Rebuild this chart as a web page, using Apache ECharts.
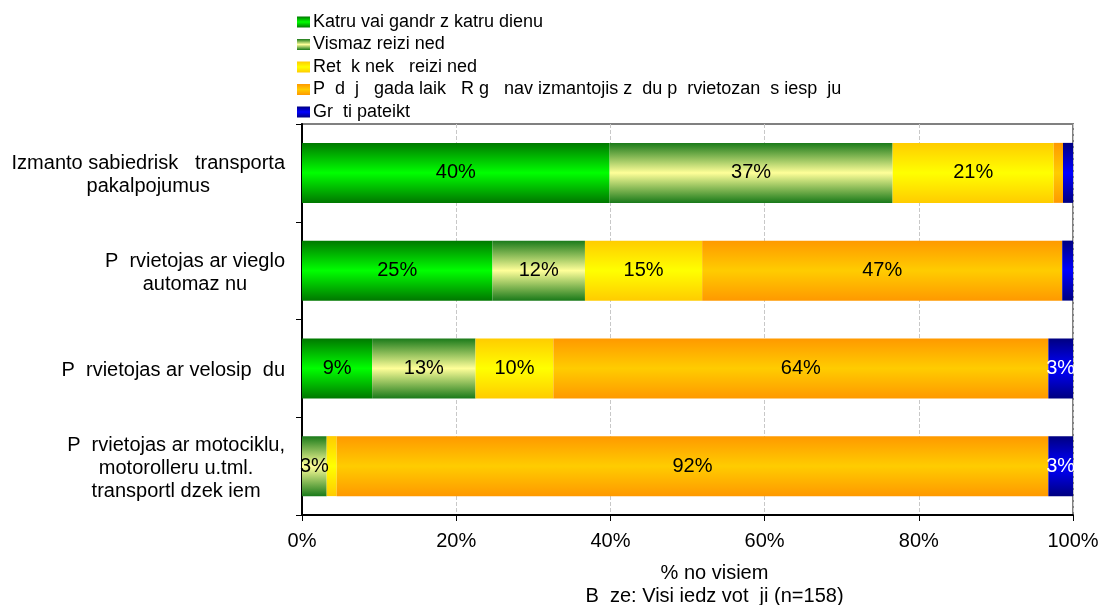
<!DOCTYPE html>
<html>
<head>
<meta charset="utf-8">
<script src="https://cdn.jsdelivr.net/npm/echarts@6/dist/echarts.min.js"></script>
<style>
  html, body { margin: 0; padding: 0; background: #fff; }
  #chart { width: 1099px; height: 605px; }
</style>
</head>
<body>
<div id="chart"></div>
<script>
// Transport usage frequency, share of all respondents (%)
var categories = [
  'Izmanto sabiedrisk   transporta\npakalpojumus',
  'P  rvietojas ar vieglo\nautomaz nu',
  'P  rvietojas ar velosip  du',
  'P  rvietojas ar motociklu,\nmotorolleru u.tml.\ntransportl dzek iem'
];
var seriesNames = [
  'Katru vai gandr z katru dienu',
  'Vismaz reizi ned',
  'Ret  k nek   reizi ned',
  'P  d  j   gada laik   R g   nav izmantojis z  du p  rvietozan  s iesp  ju',
  'Gr  ti pateikt'
];
var katruDienu = [39.9, 24.7, 9.1, 0];
var vismazReiziNed = [36.7, 12.0, 13.4, 3.2];
var retakNekReizi = [20.9, 15.2, 10.1, 1.3];
var navIzmantojis = [1.2, 46.7, 64.2, 92.3];
var grutiPateikt = [1.3, 1.4, 3.2, 3.2];
var xTicks = [0, 20, 40, 60, 80, 100];

var seriesValues = [katruDienu, vismazReiziNed, retakNekReizi, navIzmantojis, grutiPateikt];

// Vertical three-stop gradients: edge / centre / edge
function band(edge, mid) {
  return new echarts.graphic.LinearGradient(0, 0, 0, 1, [
    { offset: 0, color: edge },
    { offset: 0.5, color: mid },
    { offset: 1, color: edge }
  ]);
}
var fills = [
  band('#007800', '#00ff00'),
  band('#1a7a1a', '#ffff99'),
  band('#ffcc00', '#ffff00'),
  band('#ff9900', '#ffcc00'),
  band('#000080', '#0000ff')
];
var labelColors = ['#000', '#000', '#000', '#000', '#fff'];

var FONT = '"Liberation Sans", Arial, sans-serif';

var chart = echarts.init(document.getElementById('chart'), null, { renderer: 'canvas' });

var series = seriesNames.map(function (name, i) {
  return {
    name: name,
    type: 'bar',
    stack: 'total',
    barWidth: 60,
    data: seriesValues[i],
    itemStyle: { color: fills[i] },
    label: {
      show: true,
      position: 'inside',
      color: labelColors[i],
      fontFamily: FONT,
      fontSize: 20,
      formatter: function (p) {
        return p.value >= 2.5 ? Math.round(p.value) + '%' : '';
      }
    },
    emphasis: { disabled: true }
  };
});

chart.setOption({
  animation: false,
  backgroundColor: '#fff',
  textStyle: { fontFamily: FONT, color: '#000' },
  legend: {
    orient: 'vertical',
    left: 292,
    top: 8,
    icon: 'rect',
    itemWidth: 13,
    itemHeight: 11,
    itemGap: 4.5,
    textStyle: { fontFamily: FONT, fontSize: 18, lineHeight: 18, color: '#000', padding: [0, 0, 0, -2] },
    data: seriesNames
  },
  grid: {
    left: 302,
    right: 26,
    top: 124,
    bottom: 90,
    outerBoundsMode: 'none',
    containLabel: false,
    show: true,
    borderColor: '#808080',
    borderWidth: 2,
    backgroundColor: 'transparent'
  },
  xAxis: {
    type: 'value',
    min: xTicks[0],
    max: xTicks[xTicks.length - 1],
    interval: 20,
    name: '% no visiem\nB  ze: Visi iedz vot  ji (n=158)',
    nameLocation: 'middle',
    nameGap: 47,
    nameTextStyle: { fontFamily: FONT, fontSize: 20, color: '#000', lineHeight: 23, padding: [0, 0, 0, 54] },
    axisLine: { show: true, lineStyle: { color: '#000', width: 2 } },
    axisTick: { show: true, length: 6, lineStyle: { color: '#000' } },
    axisLabel: {
      margin: 16,
      fontFamily: FONT,
      fontSize: 20,
      color: '#000',
      formatter: '{value}%'
    },
    splitLine: { show: true, lineStyle: { color: '#c8c8c8', type: 'dashed', width: 1 } }
  },
  yAxis: {
    type: 'category',
    inverse: true,
    data: categories,
    axisLine: { show: true, lineStyle: { color: '#000', width: 2 } },
    axisTick: { show: true, length: 6, lineStyle: { color: '#000' } },
    axisLabel: {
      margin: 17,
      align: 'right',
      padding: [5, 0, 0, 0],
      formatter: function (v) {
        return v.split('\n').map(function (l) { return '{c|' + l + '}'; }).join('\n');
      },
      rich: {
        c: { align: 'center', fontFamily: FONT, fontSize: 20, color: '#000', lineHeight: 23 }
      }
    },
    splitLine: { show: false }
  },
  series: series
});
</script>
</body>
</html>
